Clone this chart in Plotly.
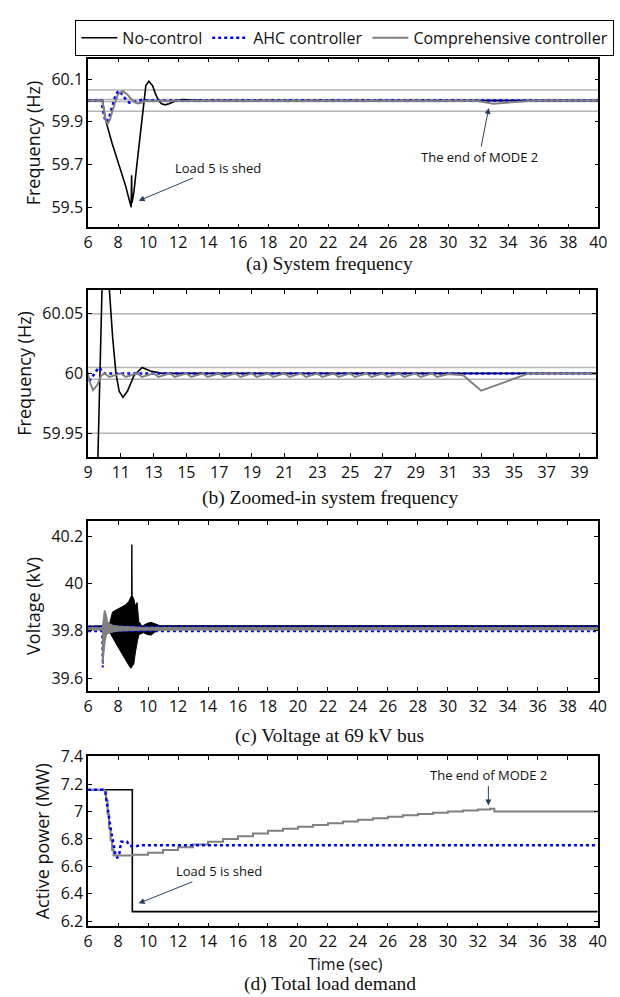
import plotly.graph_objects as go

# ---------------- data ----------------
# (a)/(b) system frequency (Hz)
black_f_t = [6.0, 6.97, 7.05, 7.2, 7.6, 8.05, 8.5, 8.87, 8.9, 8.92, 8.95, 9.05, 9.3, 9.6, 9.85, 10.05,
             10.3, 10.5, 10.7, 10.9, 11.13, 11.4, 11.8, 12.3, 12.8, 13.5, 40.0]
black_f_v = [60.0, 60.0, 59.96, 59.9, 59.8, 59.7, 59.6, 59.5, 59.65, 59.52, 59.53, 59.57, 59.73, 59.93, 60.07, 60.09,
             60.07, 60.03, 60.0, 59.985, 59.98, 59.985, 59.998, 60.005, 60.002, 60.0, 60.0]

blue_f_t = [6.0, 6.9, 6.97, 7.05, 7.15, 7.25, 7.4, 7.6, 7.85, 8.07, 8.3, 8.55, 8.75, 9.0, 9.3, 9.65, 10.0, 10.4, 40.0]
blue_f_v = [60.0, 60.0, 59.96, 59.93, 59.905, 59.9, 59.92, 59.97, 60.03, 60.046, 60.025, 60.002, 59.99, 59.992,
            59.998, 60.005, 60.0, 60.0, 60.0]

gray_f_t = [6.0, 6.95, 7.05, 7.15, 7.3, 7.45, 7.7, 8.0, 8.3, 8.6, 8.9, 9.1, 9.3, 9.55, 9.8, 10.0,
            10.3, 11.0, 11.3, 12.0, 12.3, 13.0, 13.3, 14.0, 14.3, 15.0, 15.3, 16.0, 16.3, 17.0, 17.3,
            18.0, 18.3, 19.0, 19.3, 20.0, 20.3, 21.0, 21.3, 22.0, 22.3, 23.0, 23.3, 24.0, 24.3, 25.0,
            25.3, 26.0, 26.3, 27.0, 27.3, 28.0, 28.3, 29.0, 29.3, 30.0, 30.3, 31.0, 31.9, 33.0, 35.9, 40.0]
gray_f_v = [60.0, 60.0, 59.96, 59.91, 59.89, 59.91, 59.97, 60.03, 60.045, 60.03, 60.005, 59.993, 59.986, 59.99,
            59.998, 60.0,
            59.997, 60.0, 59.997, 60.0, 59.997, 60.0, 59.997, 60.0, 59.997, 60.0, 59.997, 60.0, 59.997,
            60.0, 59.997, 60.0, 59.997, 60.0, 59.997, 60.0, 59.997, 60.0, 59.997, 60.0, 59.997, 60.0,
            59.997, 60.0, 59.997, 60.0, 59.997, 60.0, 59.997, 60.0, 59.997, 60.0, 59.997, 60.0, 59.997,
            60.0, 59.997, 59.9995, 59.9985, 59.9855, 60.0, 60.0]

freq_limits = [60.05, 59.95, 60.005, 59.995]

# (c) voltage at 69 kV bus (kV): envelopes of the dense oscillation
black_v_up_t = [6.0, 7.4, 7.63, 8.17, 8.5, 8.72, 8.85, 8.9, 8.92, 8.94, 9.05, 9.15, 9.27, 9.38, 9.6,
                9.95, 10.2, 10.45, 10.8, 40.0]
black_v_up = [39.82, 39.822, 39.88, 39.90, 39.91, 39.925, 39.946, 39.95, 40.165, 39.95, 39.935, 39.905,
              39.92, 39.84, 39.82, 39.832, 39.836, 39.83, 39.822, 39.822]
black_v_lo_t = [6.0, 7.4, 7.63, 7.85, 8.29, 8.72, 8.85, 9.05, 9.16, 9.3, 9.4, 9.7, 9.95, 10.2, 10.45, 10.8,
                11.5, 40.0]
black_v_lo = [39.81, 39.80, 39.772, 39.745, 39.70, 39.654, 39.642, 39.66, 39.71, 39.76, 39.785, 39.792,
              39.785, 39.782, 39.795, 39.805, 39.81, 39.81]

gray_v_t = [6.0, 6.95, 6.98, 7.02, 7.08, 7.15, 7.22, 7.3, 7.45, 7.7, 8.1, 8.8, 9.5, 40.0]
gray_v_up = [39.814, 39.814, 39.83, 39.86, 39.885, 39.885, 39.86, 39.84, 39.83, 39.823, 39.82, 39.817, 39.815, 39.814]
gray_v_lo = [39.804, 39.804, 39.66, 39.66, 39.72, 39.76, 39.78, 39.788, 39.792, 39.796, 39.799, 39.802, 39.803, 39.804]

blue_v_lo_t = [6.0, 6.94, 6.96, 6.98, 7.0, 7.02, 40.0]
blue_v_lo = [39.798, 39.798, 39.70, 39.645, 39.70, 39.798, 39.798]
blue_v_up_t = [6.0, 7.1, 7.18, 7.26, 40.0]
blue_v_up = [39.819, 39.819, 39.87, 39.819, 39.819]

# (d) total load demand (MW)
black_p_t = [6.0, 8.95, 40.0]
black_p_v = [7.16, 6.27, 6.27]

blue_p_t = [6.0, 7.0, 7.15, 7.5, 7.8, 7.95, 8.1, 8.2, 8.6, 8.75, 9.1, 9.5, 40.0]
blue_p_v = [7.16, 7.16, 7.14, 6.88, 6.70, 6.66, 6.70, 6.78, 6.78, 6.75, 6.745, 6.755, 6.755]

gray_p_t = [6.0, 7.0, 7.1, 7.2, 7.3, 7.4, 7.5, 7.6, 7.7, 9.0, 10.0, 11.0, 12.0, 13.0, 14.0, 15.0, 16.0, 17.0,
            18.0, 19.0, 20.0, 21.0, 22.0, 23.0, 24.0, 25.0, 26.0, 27.0, 28.0, 29.0, 30.0, 31.0, 32.0, 32.8,
            33.1, 40.0]
gray_p_v = [7.16, 7.16, 7.15, 7.08, 6.98, 6.88, 6.79, 6.72, 6.68, 6.685, 6.70, 6.72, 6.74, 6.76, 6.78, 6.80,
            6.82, 6.84, 6.86, 6.875, 6.89, 6.903, 6.915, 6.928, 6.94, 6.952, 6.963, 6.973, 6.983, 6.992,
            7.0, 7.008, 7.015, 7.02, 7.0, 7.0]

# ticks
x_ticks_full = [6, 8, 10, 12, 14, 16, 18, 20, 22, 24, 26, 28, 30, 32, 34, 36, 38, 40]
x_ticks_zoom = [9, 11, 13, 15, 17, 19, 21, 23, 25, 27, 29, 31, 33, 35, 37, 39]
ya_ticks = [59.5, 59.7, 59.9, 60.1]
ya_text = ["59.5", "59.7", "59.9", "60.1"]
yb_ticks = [59.95, 60.0, 60.05]
yb_text = ["59.95", "60", "60.05"]
yc_ticks = [39.6, 39.8, 40.0, 40.2]
yc_text = ["39.6", "39.8", "40", "40.2"]
yd_ticks = [6.2, 6.4, 6.6, 6.8, 7.0, 7.2, 7.4]
yd_text = ["6.2", "6.4", "6.6", "6.8", "7", "7.2", "7.4"]

names = ["No-control", "AHC controller", "Comprehensive controller"]
captions = ["(a) System frequency", "(b) Zoomed-in system frequency",
            "(c) Voltage at 69 kV bus", "(d) Total load demand"]

# ---------------- styling ----------------
W, H = 620, 997
BLACK = "#000000"
BLUE = "#0000ff"
GRAY = "#808080"
LIMIT = "#b4b4b4"
TICKFONT = dict(family="Open Sans", size=16, color="#111")
TITLEFONT = dict(family="Open Sans", size=18, color="#111")


def px_x(p):
    return p / W


def px_y(p):
    return 1 - p / H


fig = go.Figure()

panels = {
    "a": dict(xa="x", ya="y", xdom=[px_x(85), px_x(607)], ydom=[px_y(220), px_y(48.3)],
              xr=[6, 40], yr=[59.405, 60.197]),
    "b": dict(xa="x2", ya="y2", xdom=[px_x(85), px_x(604.5)], ydom=[px_y(453.3), px_y(283.3)],
              xr=[9, 40], yr=[59.93, 60.07]),
    "c": dict(xa="x3", ya="y3", xdom=[px_x(85), px_x(606.5)], ydom=[px_y(691), px_y(518.3)],
              xr=[6, 40], yr=[39.546, 40.265]),
    "d": dict(xa="x4", ya="y4", xdom=[px_x(85), px_x(606.5)], ydom=[px_y(930.3), px_y(757.3)],
              xr=[6, 40], yr=[6.162, 7.405]),
}

for key in ["a", "b"]:
    p = panels[key]
    for lim in freq_limits:
        fig.add_trace(go.Scatter(x=p["xr"], y=[lim, lim], mode="lines", xaxis=p["xa"], yaxis=p["ya"],
                                 line=dict(color=LIMIT, width=1.5), showlegend=False, hoverinfo="skip"))

for key in ["a", "b"]:
    p = panels[key]
    show = key == "a"
    fig.add_trace(go.Scatter(x=black_f_t, y=black_f_v, mode="lines", name=names[0], legendrank=1,
                             xaxis=p["xa"], yaxis=p["ya"], line=dict(color=BLACK, width=1.6),
                             showlegend=show))
    fig.add_trace(go.Scatter(x=blue_f_t, y=blue_f_v, mode="lines", name=names[1], legendrank=2,
                             xaxis=p["xa"], yaxis=p["ya"], line=dict(color=BLUE, width=2.5, dash="dot"),
                             showlegend=show))
    fig.add_trace(go.Scatter(x=gray_f_t, y=gray_f_v, mode="lines", name=names[2], legendrank=3,
                             xaxis=p["xa"], yaxis=p["ya"], line=dict(color=GRAY, width=2),
                             showlegend=show))

p = panels["c"]
fig.add_trace(go.Scatter(x=black_v_up_t + black_v_lo_t[::-1], y=black_v_up + black_v_lo[::-1],
                         mode="lines", fill="toself", fillcolor=BLACK, xaxis=p["xa"], yaxis=p["ya"],
                         line=dict(color=BLACK, width=1), showlegend=False, hoverinfo="skip"))
fig.add_trace(go.Scatter(x=blue_v_up_t, y=blue_v_up, mode="lines", xaxis=p["xa"], yaxis=p["ya"],
                         line=dict(color=BLUE, width=2, dash="dot"), showlegend=False))
fig.add_trace(go.Scatter(x=blue_v_lo_t, y=blue_v_lo, mode="lines", xaxis=p["xa"], yaxis=p["ya"],
                         line=dict(color=BLUE, width=2, dash="dot"), showlegend=False))
fig.add_trace(go.Scatter(x=gray_v_t + gray_v_t[::-1], y=gray_v_up + gray_v_lo[::-1],
                         mode="lines", fill="toself", fillcolor=GRAY, xaxis=p["xa"], yaxis=p["ya"],
                         line=dict(color=GRAY, width=1), showlegend=False, hoverinfo="skip"))

p = panels["d"]
fig.add_trace(go.Scatter(x=black_p_t, y=black_p_v, mode="lines", line_shape="hv", xaxis=p["xa"],
                         yaxis=p["ya"], line=dict(color=BLACK, width=1.6), showlegend=False))
fig.add_trace(go.Scatter(x=gray_p_t, y=gray_p_v, mode="lines", line_shape="hv", xaxis=p["xa"],
                         yaxis=p["ya"], line=dict(color=GRAY, width=2), showlegend=False))
fig.add_trace(go.Scatter(x=blue_p_t, y=blue_p_v, mode="lines", xaxis=p["xa"], yaxis=p["ya"],
                         line=dict(color=BLUE, width=2.5, dash="dot"), showlegend=False))

axis_common = dict(showline=True, linecolor=BLACK, linewidth=1.5, mirror="ticks", ticks="inside",
                   ticklen=4, tickwidth=1, tickcolor=BLACK, showgrid=False, zeroline=False,
                   tickfont=TICKFONT, fixedrange=True)

layout_axes = {}
ytitles = {"a": "Frequency (Hz)", "b": "Frequency (Hz)", "c": "Voltage (kV)", "d": "Active power (MW)"}
ytick = {"a": (ya_ticks, ya_text), "b": (yb_ticks, yb_text), "c": (yc_ticks, yc_text), "d": (yd_ticks, yd_text)}
for key, p in panels.items():
    xn = "xaxis" + p["xa"][1:]
    yn = "yaxis" + p["ya"][1:]
    xt = x_ticks_zoom if key == "b" else x_ticks_full
    layout_axes[xn] = dict(axis_common, domain=p["xdom"], range=p["xr"], anchor=p["ya"],
                           tickvals=xt, ticktext=[str(v) for v in xt])
    layout_axes[yn] = dict(axis_common, domain=p["ydom"], range=p["yr"], anchor=p["xa"],
                           tickvals=ytick[key][0], ticktext=ytick[key][1],
                           title=dict(text=ytitles[key], font=TITLEFONT, standoff=6))

annots = []
cap_y = [257, 495, 736.5, 988.5]
for txt, yy in zip(captions, cap_y):
    annots.append(dict(text=txt, xref="paper", yref="paper", x=px_x(332), y=px_y(yy), showarrow=False,
                       xanchor="center", yanchor="middle",
                       font=dict(family="Liberation Serif", size=19.5, color="#111")))
annots.append(dict(text="Time (sec)", xref="paper", yref="paper", x=px_x(348), y=px_y(968.5),
                   showarrow=False, xanchor="center", yanchor="middle",
                   font=dict(family="Open Sans", size=16, color="#111")))

ann_font = dict(family="Open Sans", size=13, color="#111")
annots += [
    dict(text="Load 5 is shed", xref="x", yref="y", x=9.37, y=59.53, axref="x", ayref="y",
         ax=14.66, ay=59.686, showarrow=True, arrowhead=2, arrowsize=1.2, arrowwidth=1, font=ann_font),
    dict(text="The end of MODE 2", xref="x", yref="y", x=32.7, y=59.965, axref="x", ayref="y",
         ax=32.06, ay=59.735, showarrow=True, arrowhead=2, arrowsize=1.2, arrowwidth=1, font=ann_font),
    dict(text="Load 5 is shed", xref="x4", yref="y4", x=9.37, y=6.33, axref="x4", ayref="y4",
         ax=14.7, ay=6.564, showarrow=True, arrowhead=2, arrowsize=1.2, arrowwidth=1, font=ann_font),
    dict(text="The end of MODE 2", xref="x4", yref="y4", x=32.7, y=7.045, axref="x4", ayref="y4",
         ax=32.7, ay=7.264, showarrow=True, arrowhead=2, arrowsize=1.2, arrowwidth=1, font=ann_font),
]

fig.update_layout(
    width=W, height=H, margin=dict(l=0, r=0, t=0, b=0),
    paper_bgcolor="white", plot_bgcolor="white",
    font=dict(family="Open Sans", color="#111"),
    legend=dict(orientation="h", x=px_x(72), y=px_y(9), xanchor="left", yanchor="top",
                bordercolor=BLACK, borderwidth=1, bgcolor="white", itemwidth=36,
                font=dict(family="Open Sans", size=16, color="#111"), tracegroupgap=0),
    annotations=annots,
    **layout_axes,
)

fig.write_html("out.html", config={"displayModeBar": False},
               post_script="document.body.style.margin='0';document.body.style.overflow='hidden';")
